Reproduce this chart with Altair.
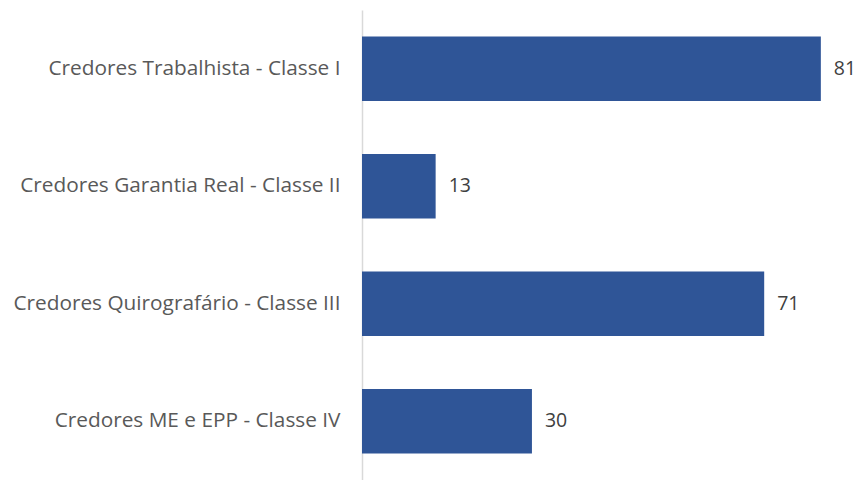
import altair as alt
import pandas as pd

categories = [
    "Credores Trabalhista - Classe I",
    "Credores Garantia Real - Classe II",
    "Credores Quirografário - Classe III",
    "Credores ME e EPP - Classe IV",
]
values = [81, 13, 71, 30]

df = pd.DataFrame({"cat": categories, "val": values})

y = alt.Y("cat:N", sort=categories, title=None,
          scale=alt.Scale(paddingInner=0.45, paddingOuter=0.225),
          axis=alt.Axis(labelFont="Open Sans", labelFontSize=20.8, labelColor="#595959",
                        labelPadding=22, ticks=False, domainColor="#d9d9d9",
                        domainWidth=1.5, labelLimit=400))
x = alt.X("val:Q", title=None, axis=None,
          scale=alt.Scale(domain=[0, 86.5], nice=False))

bars = alt.Chart(df).mark_bar(color="#2F5597").encode(x=x, y=y)
text = alt.Chart(df).mark_text(align="left", dx=13, font="Open Sans", fontSize=19.5,
                               color="#404040").encode(x=x, y=y, text="val:Q")

chart = (bars + text).properties(
    width=490, height=470,
    autosize=alt.AutoSizeParams(type="none"),
    padding={"left": 354, "top": 2, "right": 5, "bottom": 0},
).configure_view(stroke=None)

chart.save("out.html", embed_options={"renderer": "svg", "actions": False})
